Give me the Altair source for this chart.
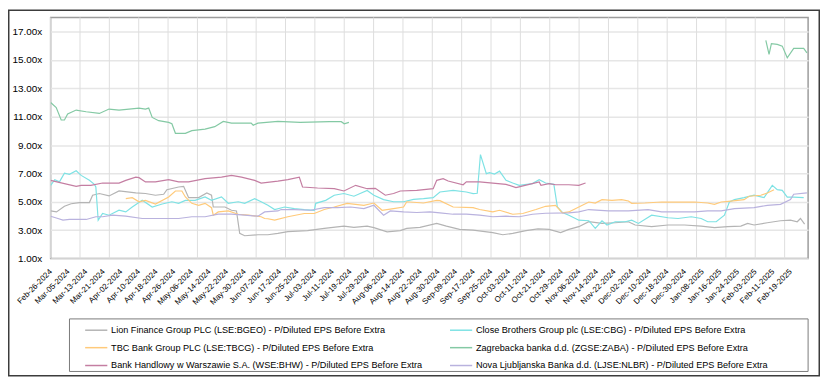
import altair as alt
import pandas as pd

# legend is filled column by column: col 1 = Lion, TBC, Handlowy; col 2 = Close, Zagreb, Nova
SERIES = [
    "Lion Finance Group PLC (LSE:BGEO) - P/Diluted EPS Before Extra",
    "TBC Bank Group PLC (LSE:TBCG) - P/Diluted EPS Before Extra",
    "Bank Handlowy w Warszawie S.A. (WSE:BHW) - P/Diluted EPS Before Extra",
    "Close Brothers Group plc (LSE:CBG) - P/Diluted EPS Before Extra",
    "Zagrebacka banka d.d. (ZGSE:ZABA) - P/Diluted EPS Before Extra",
    "Nova Ljubljanska Banka d.d. (LJSE:NLBR) - P/Diluted EPS Before Extra",
]
COLORS = ["#b4b4b4", "#ffca7a", "#c47ea2", "#7ee2e4", "#84c9a4", "#b9b2de"]

DATE_LABELS = [
    "Feb-26-2024", "Mar-05-2024", "Mar-13-2024", "Mar-21-2024", "Apr-02-2024", "Apr-10-2024",
    "Apr-18-2024", "Apr-26-2024", "May-06-2024", "May-14-2024", "May-22-2024", "May-30-2024",
    "Jun-07-2024", "Jun-17-2024", "Jun-25-2024", "Jul-03-2024", "Jul-11-2024", "Jul-19-2024",
    "Jul-29-2024", "Aug-06-2024", "Aug-14-2024", "Aug-22-2024", "Aug-30-2024", "Sep-09-2024",
    "Sep-17-2024", "Sep-25-2024", "Oct-03-2024", "Oct-11-2024", "Oct-21-2024", "Oct-29-2024",
    "Nov-06-2024", "Nov-14-2024", "Nov-22-2024", "Dec-02-2024", "Dec-10-2024", "Dec-18-2024",
    "Dec-30-2024", "Jan-08-2025", "Jan-16-2025", "Jan-24-2025", "Feb-03-2025", "Feb-11-2025",
    "Feb-19-2025",
]
LABEL_STEP = 6          # trading days between date labels
GRID_T = list(range(0, 251, 10))
Y_TICKS = [1, 3, 5, 7, 9, 11, 13, 15, 17]

# trading-day index / multiple
lion_t = [0, 2, 4.7, 7, 9.8, 13.2, 14.3, 16.6, 19.9, 23.3, 29, 32.3, 35.7, 38.5, 39.6, 43.6, 45.3, 47, 50.4, 53.2,
          54.8, 55.4, 59.4, 61.6, 63.3, 64.4, 66.1, 70.6, 74, 77.4, 80.8, 87.5, 93.2, 99.9, 103.3, 107.8, 110.1,
          114.6, 119.1, 121.3, 125.8, 131.5, 134.8, 139.3, 143.9, 150.6, 154, 157.4, 161.9, 166, 169.8, 173.7,
          176.5, 179.9, 183.3, 187.8, 192.3, 196.8, 199.1, 204.7, 210.3, 215.9, 221.6, 226.1, 230.6, 235.1,
          237.4, 239.6, 244.1, 248.6, 252, 254.3, 255.4, 256.8]
lion_v = [4.35, 4.28, 4.68, 4.86, 4.94, 4.94, 5.46, 5.58, 5.41, 5.76, 5.62, 5.58, 5.46, 5.53, 5.85, 6.04, 6.09,
          5.29, 5.29, 5.62, 5.46, 4.63, 4.63, 4.4, 4.35, 2.77, 2.6, 2.67, 2.67, 2.77, 2.89, 2.96, 3.12, 3.28, 3.19,
          3.28, 3.17, 2.88, 2.96, 3.12, 3.19, 3.47, 3.28, 3.05, 3.0, 2.82, 2.67, 2.77, 2.96, 3.08, 3.05, 2.82,
          3.05, 3.24, 3.59, 3.47, 3.52, 3.59, 3.36, 3.24, 3.36, 3.36, 3.28, 3.17, 3.24, 3.28, 3.47, 3.36, 3.52,
          3.66, 3.70, 3.59, 3.82, 3.42]

cbg_t = [0, 1.4, 3, 4.7, 6.4, 8.7, 10.4, 13.2, 14.9, 15.4, 16.2, 17.7, 19.9, 23.3, 25.6, 27.8, 31.2, 34.6, 38,
         41.3, 43.6, 45.9, 49.2, 52.6, 54.8, 58.2, 60.5, 63.9, 66.1, 69.5, 71.7, 74, 76.3, 79.7, 83, 86.4, 89.8,
         90.3, 93.7, 96.6, 99.9, 103.3, 107.8, 110.1, 113.4, 116.8, 120.2, 123.6, 127, 130.3, 132.6, 137.1,
         141.6, 143.9, 145.3, 146.4, 148.4, 149.5, 151.2, 152.9, 155.1, 157.4, 159.6, 164.1, 166.4, 168.6,
         171.4, 172.6, 174.3, 176.5, 179.9, 183.3, 185.5, 187.8, 189.5, 192.3, 195.7, 197.9, 200.2, 204.7,
         210.3, 213.7, 218.2, 221.6, 223.8, 226.7, 229.5, 231.2, 232.9, 236.2, 239.6, 243, 245.8, 247.5,
         249.2, 250.9, 253.1, 256.5]
cbg_v = [6.16, 6.56, 6.4, 7.02, 6.93, 7.19, 6.86, 6.51, 6.23, 6.04, 3.70, 4.17, 4.05, 4.40, 4.28, 4.63, 5.1,
         4.63, 4.84, 5.0, 4.89, 5.1, 5.1, 5.34, 5.1, 5.34, 4.89, 5.0, 4.89, 5.22, 5.0, 4.75, 4.45, 4.63, 4.52,
         4.45, 4.40, 4.89, 5.1, 5.46, 5.58, 5.39, 5.8, 5.46, 5.15, 5.0, 5.0, 5.17, 5.22, 5.29, 5.69, 5.8, 5.69,
         5.58, 5.6, 8.33, 6.98, 7.05, 6.95, 7.16, 6.51, 6.32, 6.16, 6.28, 6.56, 6.32, 6.23, 4.63, 4.24, 4.05,
         3.70, 3.66, 3.12, 3.66, 3.36, 3.59, 3.59, 3.70, 3.47, 4.05, 3.87, 3.82, 3.94, 3.82, 3.59, 3.59, 4.05,
         4.99, 5.15, 5.29, 5.46, 5.29, 6.16, 5.85, 5.8, 5.32, 5.32, 5.29]

tbc_t = [25.6, 27.8, 30.1, 32.3, 35.7, 40.2, 42.5, 44.7, 45.9, 48.1, 50.4, 52.6, 54.8, 55.4, 57.1, 60.5, 63.9,
         67.3, 69.5, 71.7, 72.9, 74, 76.3, 80.8, 86.4, 89.8, 93.2, 96.6, 101, 106.7, 110.1, 112.9, 116.8, 120.2,
         121.3, 127, 131.5, 132.6, 137.1, 143.9, 146.1, 150.6, 152.9, 157.4, 160.8, 165.3, 168.6, 172, 174.3,
         176.5, 179.9, 183.3, 185.5, 187.8, 191.2, 194.5, 196.8, 197.9, 202.4, 208.1, 213.7, 219.3, 223.8,
         226.1, 228.4, 231.7, 236.2, 237.9, 241.9, 244.1, 246.4]
tbc_v = [5.22, 5.29, 5.0, 5.1, 4.84, 5.34, 5.76, 5.76, 5.34, 4.89, 4.75, 4.89, 4.58, 4.05, 4.28, 4.35, 4.12,
         4.05, 4.0, 3.94, 3.82, 3.8, 3.70, 3.94, 4.17, 4.17, 4.45, 4.63, 4.89, 4.75, 4.91, 4.40, 4.52, 4.63,
         5.0, 4.91, 5.1, 5.08, 4.63, 4.58, 4.45, 4.28, 4.40, 4.12, 4.17, 4.45, 4.68, 4.75, 4.21, 4.28, 4.63,
         4.98, 4.91, 5.15, 5.1, 5.15, 5.05, 4.89, 4.91, 4.98, 4.98, 4.98, 4.91, 4.82, 4.98, 5.05, 5.15, 5.39,
         5.46, 5.62, 5.85]

zaba1_t = [0, 1.9, 3.6, 4.7, 5.8, 8.7, 12.1, 16.6, 19.9, 23.3, 30.1, 32.3, 33.4, 34.6, 36.8, 40.2, 41.3, 42.5,
           45.9, 48.1, 52.6, 55.9, 58.8, 61.6, 68.3, 69.0, 70.6, 77.4, 85, 95, 99, 100, 101.6]
zaba1_v = [12.0, 11.65, 10.77, 10.77, 11.19, 11.47, 11.35, 11.23, 11.54, 11.47, 11.61, 11.54, 11.61, 10.95,
           10.72, 10.6, 10.5, 9.83, 9.83, 10.02, 10.13, 10.3, 10.67, 10.55, 10.55, 10.4, 10.55, 10.67, 10.6,
           10.65, 10.65, 10.5, 10.6]
zaba2_t = [243.6, 244.7, 245.5, 247.5, 249.2, 250.9, 253.1, 256.5, 257.6]
zaba2_v = [16.38, 15.4, 16.15, 16.1, 15.98, 15.16, 15.82, 15.82, 15.51]

bhw_t = [0, 2.5, 8.7, 10.4, 13.7, 17.7, 23.3, 25.6, 29, 30.1, 32.3, 35.7, 40.2, 43.6, 47, 52.6, 58.2, 61.6, 65,
         69.5, 71.7, 77.4, 80.8, 84.7, 85.8, 90.9, 96.6, 99.9, 103.9, 107.8, 110.6, 114, 116.8, 119.1, 124.7,
         130.3, 131.5, 133.7, 135.4, 140.5, 141.6, 146.1, 150.6, 155.1, 158.5, 163, 166.4, 167, 169.8, 172,
         176.5, 179.9, 182.2]
bhw_v = [6.51, 6.39, 6.09, 6.16, 6.16, 6.32, 6.32, 6.51, 6.74, 6.7, 6.4, 6.4, 6.56, 6.4, 6.4, 6.63, 6.74, 6.86,
         6.74, 6.51, 6.32, 6.45, 6.56, 6.74, 6.04, 5.97, 5.92, 5.76, 6.16, 5.92, 5.95, 5.46, 5.58, 5.76, 5.8,
         5.92, 6.51, 6.63, 6.46, 6.2, 6.4, 6.4, 6.32, 6.23, 6.0, 6.23, 6.4, 6.16, 6.28, 6.2, 6.2, 6.16, 6.32]

nlb_t = [0, 2.5, 4.2, 6.4, 12.1, 15.4, 17.7, 21.1, 25.6, 31.2, 36.8, 43.6, 48.1, 52.6, 57.1, 61.6, 66.1, 70.6,
         72.9, 77.4, 78.5, 83, 88.6, 93.2, 97.7, 102.2, 106.7, 110.1, 113.4, 115.7, 120.2, 124.7, 129.2, 132.6,
         137.1, 141.6, 146.1, 150.6, 155.1, 159.6, 164.1, 168.6, 176.5, 179.9, 183.3, 190, 196.8, 203.5, 208.1,
         212.6, 219.3, 223.8, 228.4, 232.9, 239.6, 244.1, 248.6, 252, 253.1, 257.6]
nlb_v = [3.98, 3.82, 3.70, 3.75, 3.75, 3.94, 3.94, 4.05, 3.98, 3.82, 3.82, 3.82, 3.94, 3.94, 4.12, 4.12, 4.05,
         3.98, 4.28, 4.35, 4.45, 4.45, 4.40, 4.58, 4.58, 4.63, 4.52, 4.75, 4.05, 4.35, 4.28, 4.24, 4.28, 4.21,
         4.12, 4.12, 4.05, 3.94, 3.98, 3.94, 4.12, 4.19, 4.21, 4.28, 4.45, 4.35, 4.35, 4.45, 4.28, 4.28, 4.28,
         4.35, 4.35, 4.52, 4.58, 4.75, 4.82, 5.15, 5.53, 5.62]

LION, TBC, BHW, CBG, ZABA, NLB = SERIES
parts = [
    (LION, "a", lion_t, lion_v),
    (CBG, "a", cbg_t, cbg_v),
    (TBC, "a", tbc_t, tbc_v),
    (ZABA, "a", zaba1_t, zaba1_v),
    (ZABA, "b", zaba2_t, zaba2_v),
    (BHW, "a", bhw_t, bhw_v),
    (NLB, "a", nlb_t, nlb_v),
]
rows = []
for name, seg, ts, vs in parts:
    for t, v in zip(ts, vs):
        rows.append({"s": name, "g": name + seg, "t": t, "v": v})
df = pd.DataFrame(rows)

W, H = 764, 243
TOTAL_W, TOTAL_H = 819, 370
PAD_L, PAD_T = 43, 8

label_js = "[" + ",".join("'" + s + "'" for s in DATE_LABELS) + "]"
x_scale = alt.Scale(domain=[0, 258], nice=False, zero=False)
x_axis = alt.Axis(
    values=[i * LABEL_STEP for i in range(len(DATE_LABELS))],
    labelExpr=label_js + "[round(datum.value/" + str(LABEL_STEP) + ")]",
    labelAngle=-45, labelAlign="right", labelBaseline="middle",
    labelFontSize=8, labelPadding=12, labelOverlap=False, labelFlush=False,
    labelColor="#000000", grid=False, ticks=False, domain=False, title=None,
)

vgrid = alt.Chart(pd.DataFrame({"t": GRID_T})).mark_rule(color="#dedede", strokeWidth=1).encode(
    x=alt.X("t:Q", scale=x_scale, axis=x_axis)
)

lines = alt.Chart(df).mark_line(strokeWidth=1.2, clip=True).encode(
    x=alt.X("t:Q", scale=x_scale, axis=x_axis),
    y=alt.Y(
        "v:Q",
        scale=alt.Scale(domain=[1, 18], nice=False, zero=False),
        axis=alt.Axis(
            values=Y_TICKS, labelExpr="format(datum.value, '.2f') + 'x'",
            grid=True, gridColor="#e6e6e6", gridWidth=1.5, ticks=False, domain=False,
            labelFontSize=10, labelPadding=9, labelColor="#000000", title=None,
        ),
    ),
    color=alt.Color(
        "s:N",
        scale=alt.Scale(domain=SERIES, range=COLORS),
        legend=alt.Legend(
            title=None, orient="none", legendX=34, legendY=303, columns=2,
            columnPadding=24, rowPadding=-3, symbolType="stroke", symbolSize=500,
            symbolStrokeWidth=1.5, labelFontSize=9.2, labelOffset=3, labelLimit=500,
            labelColor="#000000", padding=0,
        ),
    ),
    detail="g:N",
)

one = pd.DataFrame({"k": [0]})
legend_box = alt.Chart(one).mark_rect(fillOpacity=0, stroke="#7a7a7a", strokeWidth=1).encode(
    x=alt.value(19), x2=alt.value(764), y=alt.value(304), y2=alt.value(357)
)
frame = alt.Chart(one).mark_rect(fillOpacity=0, stroke="#3c3c3c", strokeWidth=1.5).encode(
    x=alt.value(-PAD_L + 0.75), x2=alt.value(TOTAL_W - PAD_L - 0.75),
    y=alt.value(-PAD_T + 0.75), y2=alt.value(TOTAL_H - PAD_T - 0.75)
)

chart = alt.layer(vgrid, lines, legend_box, frame).properties(
    width=W, height=H,
    autosize=alt.AutoSizeParams(type="none"),
    padding={"left": PAD_L, "top": PAD_T, "right": TOTAL_W - PAD_L - W, "bottom": TOTAL_H - PAD_T - H},
    background="#ffffff",
).configure(font="Liberation Sans").configure_view(stroke="#9c9c9c", strokeWidth=1.5)

chart.save("out.html", embed_options={"renderer": "svg", "actions": False})
